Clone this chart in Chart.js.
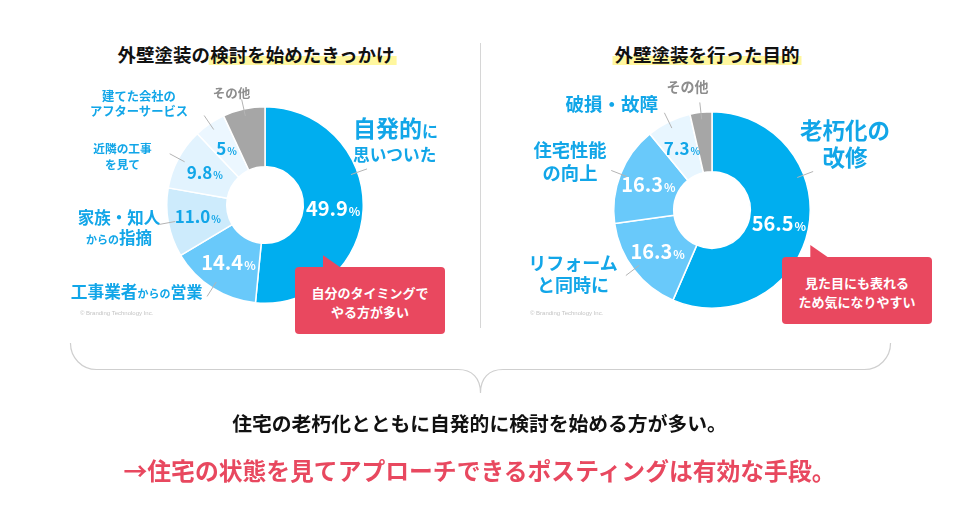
<!DOCTYPE html>
<html lang="ja">
<head>
<meta charset="utf-8">
<script src="https://cdn.jsdelivr.net/npm/chart.js@4.4.1/dist/chart.umd.min.js"></script>
<style>
  html, body { margin: 0; padding: 0; background: #fff; }
  body { width: 960px; height: 523px; position: relative; overflow: hidden;
         font-family: "Noto Sans CJK JP", "Noto Sans", sans-serif; font-weight: 700; }
  .abs { position: absolute; white-space: nowrap; }
  .c { transform: translate(-50%, -50%); text-align: center; }
  .l { transform: translate(0, -50%); text-align: left; }
  .blue { color: #12a6e8; }
  .gray { color: #8d8d8d; }
  .title { font-size: 18.5px; line-height: 24px; color: #111; letter-spacing: 0; }
  .hl { background: linear-gradient(transparent 57%, #fff79e 57%, #fff79e 92%, transparent 92%); padding: 0 2px; margin: 0 -2px; }
  canvas { position: absolute; }
  .box { position: absolute; width: 150px; height: 67px; background: #e9485f; border-radius: 4px;
         color: #fff; font-size: 13px; line-height: 19px; display: flex; align-items: center; justify-content: center; text-align: center; }
  .tri { position: absolute; width: 18px; height: 12.5px; background: #e9485f; clip-path: polygon(0 0, 0 100%, 100% 100%); }
  .copy { font-size: 6px; color: #c4c4c4; font-weight: 400; font-family: "Liberation Sans", sans-serif; }
  .sep { position: absolute; left: 480px; top: 43px; width: 1px; height: 285px; background: #d6d6d6; }
</style>
</head>
<body>
<script>
// ---------- DATA ----------
const leftTitle = "外壁塗装の検討を始めたきっかけ";
const leftCategories = ["自発的に思いついた", "工事業者からの営業", "家族・知人からの指摘", "近隣の工事を見て", "建てた会社のアフターサービス", "その他"];
const leftValues = [49.9, 14.4, 11.0, 9.8, 5, 6.7];
const leftPctLabels = ["49.9", "14.4", "11.0", "9.8", "5", ""];

const rightTitle = "外壁塗装を行った目的";
const rightCategories = ["老朽化の改修", "リフォームと同時に", "住宅性能の向上", "破損・故障", "その他"];
const rightValues = [56.5, 16.3, 16.3, 7.3, 3.6];
const rightPctLabels = ["56.5", "16.3", "16.3", "7.3", ""];
</script>

<div class="abs c title" style="left:256px; top:53.5px;">外壁塗装の<span class="hl">検討を始めたきっかけ</span></div>
<div class="abs c title" style="left:707px; top:53.5px;"><span class="hl">外壁塗装を行った目的</span></div>

<div class="sep"></div>

<canvas id="leftChart" width="240" height="240" style="left:144.5px; top:84.5px;"></canvas>
<canvas id="rightChart" width="240" height="240" style="left:592px; top:90px;"></canvas>

<!-- left outer labels -->
<div class="abs l blue" style="left:353px; top:140.5px; line-height:24.4px;">
  <span style="font-size:23px;">自発的</span><span style="font-size:16px;">に</span><br>
  <span style="font-size:16.7px;">思いついた</span>
</div>
<div class="abs c gray" style="left:231.5px; top:91.7px; font-size:12.5px; line-height:15px;">その他</div>
<div class="abs c blue" style="left:139px; top:104.2px; font-size:12.3px; line-height:15px;">建てた会社の<br>アフターサービス</div>
<div class="abs c blue" style="left:122.5px; top:156.7px; font-size:11.7px; line-height:16.7px;">近隣の工事<br>を見て</div>
<div class="abs c blue" style="left:119px; top:228.3px; line-height:20px;">
  <span style="font-size:16.5px;">家族・知人</span><br>
  <span style="font-size:11px;">からの</span><span style="font-size:16.5px;">指摘</span>
</div>
<div class="abs c blue" style="left:136.7px; top:291.7px; line-height:20px;">
  <span style="font-size:16.7px;">工事業者</span><span style="font-size:11px;">からの</span><span style="font-size:16px;">営業</span>
</div>
<div class="abs copy" style="left:80px; top:309.5px;">© Branding Technology Inc.</div>

<!-- right outer labels -->
<div class="abs c blue" style="left:845px; top:143.3px; font-size:22.5px; line-height:26.7px;">老朽化の<br>改修</div>
<div class="abs c gray" style="left:687.5px; top:86px; font-size:14px; line-height:16px;">その他</div>
<div class="abs c blue" style="left:611.7px; top:103.3px; font-size:18.5px; line-height:22px;">破損・故障</div>
<div class="abs c blue" style="left:570px; top:161.3px; font-size:18.3px; line-height:22.7px;">住宅性能<br>の向上</div>
<div class="abs c blue" style="left:573px; top:274.2px; font-size:18px; line-height:21.7px;">リフォーム<br>と同時に</div>
<div class="abs copy" style="left:530px; top:309.5px;">© Branding Technology Inc.</div>

<!-- callouts -->
<div class="tri" style="left:322.7px; top:255px;"></div>
<div class="box" style="left:295px; top:267px;"><div style="padding-top:2px;">自分のタイミングで<br>やる方が多い</div></div>
<div class="tri" style="left:810.3px; top:245px;"></div>
<div class="box" style="left:782px; top:257px;"><div style="padding-top:2px;">見た目にも表れる<br>ため気になりやすい</div></div>

<!-- brace -->
<svg class="abs" style="left:0; top:0;" width="960" height="523">
  <path d="M70.5 343 A26 26 0 0 0 96.5 369.5 L458 369.5 C472 369.5 480.5 378 480.5 393 C480.5 378 489 369.5 503 369.5 L864.5 369.5 A26 26 0 0 0 890.5 343"
        fill="none" stroke="#cfcfcf" stroke-width="1.2"/>
</svg>

<div class="abs c" style="left:479.5px; top:423px; font-size:19.8px; line-height:26px; color:#111;">住宅の老朽化とともに自発的に検討を始める方が多い。</div>
<div class="abs c" style="left:479.5px; top:469.5px; font-size:23.8px; line-height:30px; color:#e8485f;">→住宅の状態を見てアプローチできるポスティングは有効な手段。</div>

<script>
const pctPlugin = {
  id: 'pct',
  afterDatasetsDraw(chart, args, opts) {
    const ctx = chart.ctx;
    const meta = chart.getDatasetMeta(0);
    ctx.save();
    // leader lines
    ctx.strokeStyle = opts.lineColor;
    ctx.lineWidth = 1;
    meta.data.forEach((arc, i) => {
      const p = arc.getProps(['x', 'y', 'startAngle', 'endAngle', 'outerRadius'], true);
      const f = (opts.leaderFrac && opts.leaderFrac[i] != null) ? opts.leaderFrac[i] : 0.5;
      const a = p.startAngle + f * (p.endAngle - p.startAngle);
      const r1 = p.outerRadius - opts.lineIn, r2 = p.outerRadius + opts.lineOut;
      ctx.beginPath();
      ctx.moveTo(p.x + r1 * Math.cos(a), p.y + r1 * Math.sin(a));
      ctx.lineTo(p.x + r2 * Math.cos(a), p.y + r2 * Math.sin(a));
      ctx.stroke();
    });
    // percentage labels
    const fam = '"Noto Sans CJK JP", "Noto Sans", sans-serif';
    meta.data.forEach((arc, i) => {
      const txt = opts.labels[i];
      if (!txt) return;
      const pos = arc.tooltipPosition(true);
      const big = opts.sizes[i];
      const small = Math.round(big * 0.6);
      ctx.font = '700 ' + big + 'px ' + fam;
      const w1 = ctx.measureText(txt).width;
      ctx.font = '700 ' + small + 'px ' + fam;
      const w2 = ctx.measureText('%').width;
      const x0 = pos.x - (w1 + w2 + 1) / 2;
      const yb = pos.y + big * 0.36;
      ctx.fillStyle = opts.colors[i];
      ctx.textBaseline = 'alphabetic';
      ctx.textAlign = 'left';
      ctx.font = '700 ' + big + 'px ' + fam;
      ctx.fillText(txt, x0, yb);
      ctx.font = '700 ' + small + 'px ' + fam;
      ctx.fillText('%', x0 + w1 + 1, yb);
    });
    ctx.restore();
  }
};

function makeDonut(id, cats, vals, colors, pctLabels, textColors, sizes, leaderFrac) {
  return new Chart(document.getElementById(id), {
    type: 'doughnut',
    data: {
      labels: cats,
      datasets: [{
        data: vals,
        backgroundColor: colors,
        borderColor: '#ffffff',
        borderWidth: 1.5,
        hoverOffset: 0,
        offset: 0
      }]
    },
    options: {
      responsive: false,
      animation: false,
      events: [],
      cutout: '39%',
      layout: { padding: 21 },
      plugins: {
        legend: { display: false },
        tooltip: { enabled: false },
        pct: { labels: pctLabels, colors: textColors, sizes: sizes, leaderFrac: leaderFrac,
               lineColor: '#b4b4b4', lineIn: 7, lineOut: 10 }
      }
    },
    plugins: [pctPlugin]
  });
}

makeDonut('leftChart', leftCategories, leftValues,
  ['#00aeef', '#69c9fa', '#cdebfc', '#e2f3fe', '#ecf7ff', '#a6a6a6'],
  leftPctLabels,
  ['#ffffff', '#ffffff', '#12a6e8', '#12a6e8', '#12a6e8', '#12a6e8'],
  [20, 20, 17, 17, 17, 17],
  [0.38, 0.5, 0.5, 0.5, 0.5, 0.5]);

makeDonut('rightChart', rightCategories, rightValues,
  ['#00aeef', '#69c9fa', '#69c9fa', '#e8f6ff', '#a6a6a6'],
  rightPctLabels,
  ['#ffffff', '#ffffff', '#ffffff', '#12a6e8', '#12a6e8'],
  [20, 20, 20, 17, 17],
  [0.34, 0.5, 0.5, 0.5, 0.5]);
</script>
</body>
</html>
